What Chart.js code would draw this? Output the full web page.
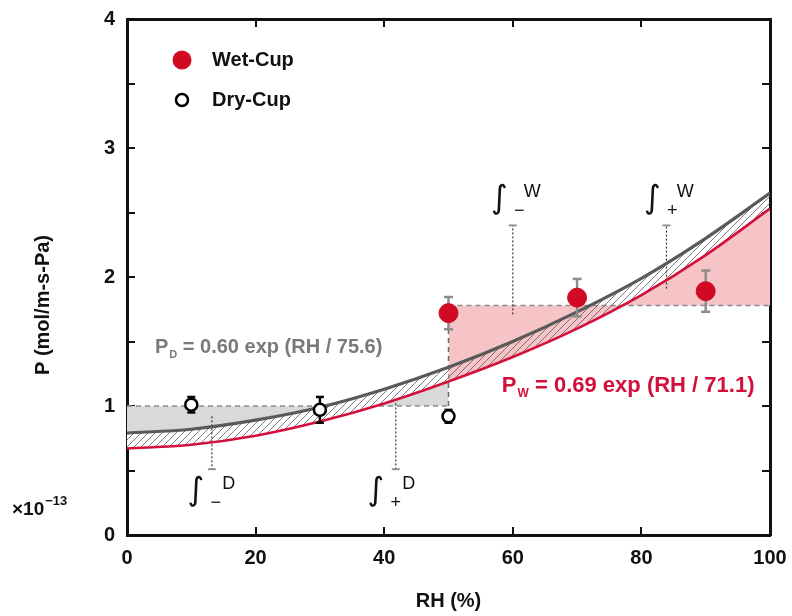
<!DOCTYPE html>
<html>
<head>
<meta charset="utf-8">
<script src="https://cdn.jsdelivr.net/npm/chart.js@4.4.1/dist/chart.umd.min.js"></script>
<style>
  html, body { margin: 0; padding: 0; background: #fff; }
  #wrap { width: 792px; height: 616px; }
</style>
</head>
<body>
<div id="wrap"><canvas id="c" width="792" height="616"></canvas></div>
<script>
// fitted curves
const rhGrid = [0, 10, 20, 30, 40, 50, 60, 70, 80, 90, 100];
const fitDry = [0.79, 0.82, 0.89, 0.99, 1.13, 1.30, 1.50, 1.73, 1.99, 2.30, 2.65];
const fitWet = [0.67, 0.70, 0.77, 0.88, 1.02, 1.19, 1.38, 1.60, 1.86, 2.17, 2.53];

// measurements
const dryRH = [10, 30, 50];
const dryP = [1.01, 0.97, 0.92];
const dryErr = [0.06, 0.10, 0.05];
const wetRH = [50, 70, 90];
const wetP = [1.72, 1.84, 1.89];
const wetErr = [0.125, 0.145, 0.16];

// step levels (dry below 50 %, wet above)
const stepRH = [0, 50, 100];
const stepLevel = [1.0, 1.78];

// integral markers
const intRH = [13.2, 41.8, 60, 83.9];
const intFrom = [0.92, 1.02, 1.71, 1.91];
const intTo = [0.51, 0.51, 2.40, 2.40];
const intSub = ['\u2212', '+', '\u2212', '+'];
const intSup = ['D', 'D', 'W', 'W'];

const yTicks = [0, 1, 2, 3, 4];
const xTicks = [0, 20, 40, 60, 80, 100];

const RED = '#d3103c';
const FONT = '"Liberation Sans", Arial, Helvetica, sans-serif';

function pts(xs, ys) { return xs.map((x, i) => ({ x: x, y: ys[i] })); }

const canvas = document.getElementById('c');
const hatch = (function () {
  const c = document.createElement('canvas');
  c.width = 7; c.height = 7;
  const g = c.getContext('2d');
  g.strokeStyle = '#5a5a5a'; g.lineWidth = 0.8;
  g.beginPath();
  g.moveTo(0, 7); g.lineTo(7, 0);
  g.moveTo(-1, 1); g.lineTo(1, -1);
  g.moveTo(6, 8); g.lineTo(8, 6);
  g.stroke();
  return canvas.getContext('2d').createPattern(c, 'repeat');
})();

const WET_CURVE = 3;
const datasets = [
  { label: 'Wet-Cup', data: pts(wetRH, wetP), showLine: false, pointRadius: 9.5,
    pointBackgroundColor: '#d00a22', pointBorderColor: '#d00a22', pointBorderWidth: 1, order: 0 },
  { label: 'Dry-Cup', data: pts(dryRH, dryP), showLine: false, pointRadius: 6,
    pointBackgroundColor: '#fff', pointBorderColor: '#000', pointBorderWidth: 2.5, order: 0 },
  { label: 'dry fit', data: pts(rhGrid, fitDry), borderColor: '#5a5a5a', borderWidth: 3.2,
    pointRadius: 0, cubicInterpolationMode: 'monotone', fill: false, order: 3 },
  { label: 'wet fit', data: pts(rhGrid, fitWet), borderColor: RED, borderWidth: 2.6,
    pointRadius: 0, cubicInterpolationMode: 'monotone', fill: false, order: 3 },
  // white base under the hatch for the dry half
  { label: 'band base', data: pts(rhGrid.slice(0, 6), fitDry.slice(0, 6)), borderWidth: 0,
    borderColor: 'rgba(0,0,0,0)', backgroundColor: '#fff', pointRadius: 0,
    cubicInterpolationMode: 'monotone', fill: WET_CURVE, order: 6 },
  { label: 'band hatch', data: pts(rhGrid, fitDry), borderWidth: 0, borderColor: 'rgba(0,0,0,0)',
    backgroundColor: hatch, pointRadius: 0, cubicInterpolationMode: 'monotone', fill: WET_CURVE, order: 5 },
  { label: 'dry step', data: pts(stepRH.slice(0, 2), [stepLevel[0], stepLevel[0]]), borderColor: '#8a8a8a',
    borderWidth: 1.5, borderDash: [5, 4], backgroundColor: '#d9d9d9', pointRadius: 0, fill: WET_CURVE, order: 8 },
  { label: 'wet step', data: pts(stepRH.slice(1), [stepLevel[1], stepLevel[1]]), borderColor: '#8a8a8a',
    borderWidth: 1.5, borderDash: [5, 4], backgroundColor: '#f6c3c6', pointRadius: 0, fill: WET_CURVE, order: 8 },
  { label: 'step joint', data: pts([stepRH[1], stepRH[1]], stepLevel), borderColor: '#6a6a6a',
    borderWidth: 1.5, borderDash: [5, 4], pointRadius: 0, fill: false, order: 7 }
];

dryRH.forEach((x, i) => datasets.push({
  label: 'dry err', data: pts([x, x], [dryP[i] - dryErr[i], dryP[i] + dryErr[i]]),
  borderColor: '#000', borderWidth: 2.5, pointStyle: 'line', pointRadius: 4,
  pointBorderColor: '#000', pointBorderWidth: 2.5, fill: false, order: 2
}));
wetRH.forEach((x, i) => datasets.push({
  label: 'wet err', data: pts([x, x], [wetP[i] - wetErr[i], wetP[i] + wetErr[i]]),
  borderColor: '#8c8c8c', borderWidth: 2.5, pointStyle: 'line', pointRadius: 4.5,
  pointBorderColor: '#8c8c8c', pointBorderWidth: 2.5, fill: false, order: 2
}));
intRH.forEach((x, i) => datasets.push({
  label: 'integral', data: pts([x, x], [intFrom[i], intTo[i]]),
  borderColor: '#333', borderWidth: 1.2, borderDash: [2, 2], pointStyle: 'line',
  pointRadius: [0, 4], pointBorderColor: '#8a8a8a', pointBorderWidth: 1.8, fill: false, order: 4
}));

const labelsPlugin = {
  id: 'labels',
  afterDatasetsDraw(chart) {
    const ctx = chart.ctx, xs = chart.scales.x, ys = chart.scales.y, a = chart.chartArea;
    ctx.save();

    // integral symbols
    const symX = [10.7, 38.7, 57.9, 81.7];
    const symY = [0.333, 0.333, 2.60, 2.60];
    intRH.forEach((_, i) => {
      const cx = xs.getPixelForValue(symX[i]);
      const cy = ys.getPixelForValue(symY[i]);
      ctx.fillStyle = '#111';
      ctx.textAlign = 'center'; ctx.textBaseline = 'middle';
      ctx.font = '32px "DejaVu Sans", sans-serif';
      ctx.fillText('\u222B', cx, cy);
      ctx.font = '18px ' + FONT;
      ctx.fillText(intSub[i], cx + 20, cy + 11);
      ctx.fillText(intSup[i], cx + 33, cy - 8);
    });

    // equation labels
    function eq(x, y, sub, rest, color, size) {
      let px = xs.getPixelForValue(x), py = ys.getPixelForValue(y);
      ctx.fillStyle = color; ctx.textAlign = 'left'; ctx.textBaseline = 'alphabetic';
      ctx.font = 'bold ' + size + 'px ' + FONT;
      ctx.fillText('P', px, py);
      px += ctx.measureText('P').width + 1;
      ctx.font = 'bold ' + Math.round(size * 0.55) + 'px ' + FONT;
      ctx.fillText(sub, px, py + 5);
      px += ctx.measureText(sub).width;
      ctx.font = 'bold ' + size + 'px ' + FONT;
      ctx.fillText(rest, px, py);
    }
    eq(4.35, 1.411, 'D', ' = 0.60 exp (RH / 75.6)', '#7a7a7a', 20);
    eq(58.3, 1.109, 'W', ' = 0.69 exp (RH / 71.1)', RED, 22);

    // legend
    const lx = a.left + 55;
    ctx.beginPath(); ctx.arc(lx, a.top + 41, 9.5, 0, Math.PI * 2);
    ctx.fillStyle = '#d00a22'; ctx.fill();
    ctx.beginPath(); ctx.arc(lx, a.top + 81, 6, 0, Math.PI * 2);
    ctx.fillStyle = '#fff'; ctx.fill(); ctx.lineWidth = 2.5; ctx.strokeStyle = '#000'; ctx.stroke();
    ctx.fillStyle = '#111'; ctx.font = 'bold 20px ' + FONT; ctx.textAlign = 'left'; ctx.textBaseline = 'middle';
    ctx.fillText('Wet-Cup', lx + 30, a.top + 41);
    ctx.fillText('Dry-Cup', lx + 30, a.top + 81);

    // exponent note
    ctx.textBaseline = 'alphabetic';
    ctx.font = 'bold 19px ' + FONT;
    ctx.fillText('\u00D710', 12, 515);
    const w = ctx.measureText('\u00D710').width;
    ctx.font = 'bold 13px ' + FONT;
    ctx.fillText('\u221213', 12 + w + 1, 505);

    // y title
    ctx.translate(43, 305); ctx.rotate(-Math.PI / 2);
    ctx.textAlign = 'center'; ctx.textBaseline = 'middle';
    ctx.font = 'bold 20px ' + FONT;
    ctx.fillText('P (mol/m-s-Pa)', 0, 0);
    ctx.restore();
  }
};

const axisLine = { display: true, width: 3, color: '#111' };
const gridIn = { drawOnChartArea: false, drawTicks: true, tickLength: -8, color: '#111', lineWidth: 2 };
const tickFont = { family: FONT, size: 20, weight: 'bold' };
function noPad(s) { s.paddingLeft = 0; s.paddingRight = 0; s.paddingTop = 0; s.paddingBottom = 0; }

new Chart(canvas, {
  type: 'line',
  data: { datasets: datasets },
  options: {
    responsive: false,
    animation: false,
    events: [],
    layout: { padding: 0 },
    plugins: { legend: { display: false }, tooltip: { enabled: false } },
    scales: {
      x: {
        type: 'linear', position: 'bottom', min: 0, max: 100,
        afterBuildTicks: s => { s.ticks = xTicks.map(v => ({ value: v })); },
        ticks: { font: tickFont, color: '#111', padding: 19 },
        grid: gridIn, border: axisLine,
        title: { display: true, text: 'RH (%)', font: { family: FONT, size: 20, weight: 'bold' },
                 color: '#111', padding: { top: 0, bottom: 3 } },
        afterFit: s => { s.height = 81; noPad(s); }
      },
      x2: {
        type: 'linear', position: 'top', min: 0, max: 100,
        afterBuildTicks: s => { s.ticks = xTicks.map(v => ({ value: v })); },
        ticks: { display: false }, grid: gridIn, border: axisLine,
        afterFit: s => { s.height = 19; noPad(s); }
      },
      y: {
        type: 'linear', position: 'left', min: 0, max: 4,
        ticks: { stepSize: 0.5, font: tickFont, color: '#111', padding: 20,
                 callback: v => yTicks.includes(v) ? String(v) : '' },
        grid: gridIn, border: axisLine,
        afterFit: s => { s.width = 127; noPad(s); }
      },
      y2: {
        type: 'linear', position: 'right', min: 0, max: 4,
        ticks: { display: false, stepSize: 0.5 }, grid: gridIn, border: axisLine,
        afterFit: s => { s.width = 22; noPad(s); }
      }
    }
  },
  plugins: [labelsPlugin]
});
</script>
</body>
</html>
